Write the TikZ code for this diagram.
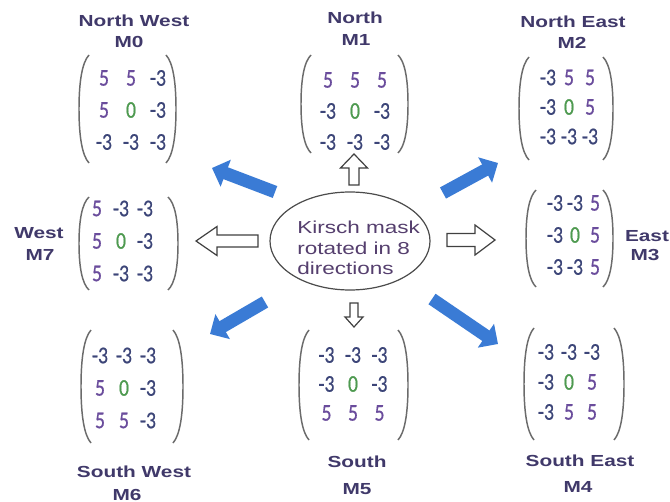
\documentclass[tikz,border=0pt]{standalone}
\usepackage{fontspec}
\newfontfamily\tfont{Liberation Sans}[FakeStretch=1.3]
\newfontfamily\nfont{Carlito}[FakeStretch=0.82,FakeBold=0.6]
\usetikzlibrary{arrows.meta,shapes.geometric}
\definecolor{ttl}{HTML}{40396A}
\definecolor{ktxt}{HTML}{553F6E}
\definecolor{cfive}{HTML}{6A4C9C}
\definecolor{cneg}{HTML}{3C4578}
\definecolor{czero}{HTML}{4E9A50}
\definecolor{brkc}{HTML}{6B6B6B}
\definecolor{blu}{HTML}{3A7BD5}
\newcommand\kval[1]{\ifnum#1>0 \textcolor{cfive}{#1}\else\ifnum#1=0 \textcolor{czero}{#1}\else\textcolor{cneg}{#1}\fi\fi}
\newcommand\kmat[6]{%
  \foreach \v [count=\i from 0] in {#6}{%
    \pgfmathtruncatemacro\rr{div(\i,3)+1}%
    \pgfmathtruncatemacro\cc{mod(\i,3)+1}%
    \node[cell] (#1-\rr-\cc) at ({#2+(\cc-2)*#4},{#3+(\rr-2)*#5}) {\kval{\v}};
  }}
\newcommand\kbrk[4]{%
  \draw[brkline] ({#1+9},#3) .. controls ({#1+2},{#3+0.07*(#4-#3)}) and ({#1-1},{#3+0.25*(#4-#3)}) .. ({#1-1},{0.5*(#3+#4)})
     .. controls ({#1-1},{#4-0.25*(#4-#3)}) and ({#1+2},{#4-0.07*(#4-#3)}) .. ({#1+9},#4);
  \draw[brkline] ({#2-9},#3) .. controls ({#2-2},{#3+0.07*(#4-#3)}) and ({#2+1},{#3+0.25*(#4-#3)}) .. ({#2+1},{0.5*(#3+#4)})
     .. controls ({#2+1},{#4-0.25*(#4-#3)}) and ({#2-2},{#4-0.07*(#4-#3)}) .. ({#2-9},#4);}
\newcommand\harrow[7]{%
  \begin{scope}[shift={(#1,#2)}, rotate=#3]
    \draw[hol] (0,0) -- (-#7,#6/2) -- (-#7,#5/2) -- (-#4,#5/2) -- (-#4,-#5/2) -- (-#7,-#5/2) -- (-#7,-#6/2) -- cycle;
  \end{scope}}
\begin{document}
\begin{tikzpicture}[x=0.75pt,y=-0.75pt,
  cell/.style={inner sep=0pt, font=\nfont\fontsize{18}{20}\selectfont},
  brkline/.style={draw=brkc, line width=1.1pt},
  hol/.style={draw=black!75, line width=0.9pt, fill=white, line join=miter},
  ttlnode/.style={inner sep=0pt, text=ttl, font=\tfont\bfseries\fontsize{12}{14}\selectfont},
  bluarrow/.style={draw=blu, line width=9.5pt, -{Triangle[length=11pt,width=21pt]}}]
\fill[white] (0,0) rectangle (670,502);
\useasboundingbox (0,0) rectangle (670,502);

% titles
\node[ttlnode] (tNW) at (134,21) {North West};
\node[ttlnode] (mNW) at (129,42) {M0};
\node[ttlnode] (tN) at (355,18) {North};
\node[ttlnode] (mN) at (356,40) {M1};
\node[ttlnode] (tNE) at (573,22) {North East};
\node[ttlnode] (mNE) at (572,43) {M2};
\node[ttlnode] (tW) at (39,233) {West};
\node[ttlnode] (mW) at (40,255) {M7};
\node[ttlnode] (tE) at (647,236) {East};
\node[ttlnode] (mE) at (645,255) {M3};
\node[ttlnode] (tSW) at (134,472) {South West};
\node[ttlnode] (mSW) at (127,495) {M6};
\node[ttlnode] (tS) at (357,462) {South};
\node[ttlnode] (mS) at (357,489) {M5};
\node[ttlnode] (tSE) at (580,461) {South East};
\node[ttlnode] (mSE) at (578,487) {M4};

% matrices
\kmat{m0}{131}{110}{27}{32}{5,5,-3,5,0,-3,-3,-3,-3}
\kbrk{80}{175}{55}{163}
\kmat{m1}{355}{111}{27}{31}{5,5,5,-3,0,-3,-3,-3,-3}
\kbrk{302}{407}{55}{153}
\kmat{m2}{569}{107}{21}{29.5}{-3,5,5,-3,0,5,-3,-3,-3}
\kbrk{520}{612}{57}{160}
\kmat{m7}{121}{241}{24}{32.5}{5,-3,-3,5,0,-3,5,-3,-3}
\kbrk{80}{177}{197}{290}
\kmat{m3}{575}{235}{20}{32}{-3,-3,5,-3,0,5,-3,-3,5}
\kbrk{527}{612}{190}{287}
\kmat{m6}{124}{388}{24}{32.5}{-3,-3,-3,5,0,-3,5,5,-3}
\kbrk{82}{182}{330}{443}
\kmat{m5}{353}{384}{26.5}{29}{-3,-3,-3,-3,0,-3,5,5,5}
\kbrk{300}{407}{330}{440}
\kmat{m4}{569}{382}{23}{30}{-3,-3,-3,-3,0,5,-3,5,5}
\kbrk{525}{623}{328}{440}

% centre
\node[ellipse, draw=black!70, line width=0.9pt, minimum width=120pt, minimum height=73.5pt, inner sep=0pt] (ctr) at (350,241) {};
\node[anchor=west, align=left, inner sep=0pt, text=ktxt, font=\tfont\fontsize{13}{15.4}\selectfont] (ctxt) at (297,248) {Kirsch mask\\rotated in 8\\directions};

% hollow arrows
\harrow{354}{154}{90}{31}{10}{27}{14}
\harrow{354}{327}{270}{24}{8}{18}{10}
\harrow{196}{241}{180}{62}{12}{29}{21}
\harrow{495}{240}{0}{48}{13}{30}{20}

% blue arrows
\coordinate (nwT) at (275,192); \coordinate (nwH) at (212,168);
\coordinate (neT) at (443,193); \coordinate (neH) at (498,163);
\coordinate (swT) at (265,302); \coordinate (swH) at (210,334);
\coordinate (seT) at (432,299); \coordinate (seH) at (498,344);
\draw[bluarrow] (nwT) -- (nwH);
\draw[bluarrow] (neT) -- (neH);
\draw[bluarrow] (swT) -- (swH);
\draw[bluarrow] (seT) -- (seH);
\end{tikzpicture}
\end{document}
